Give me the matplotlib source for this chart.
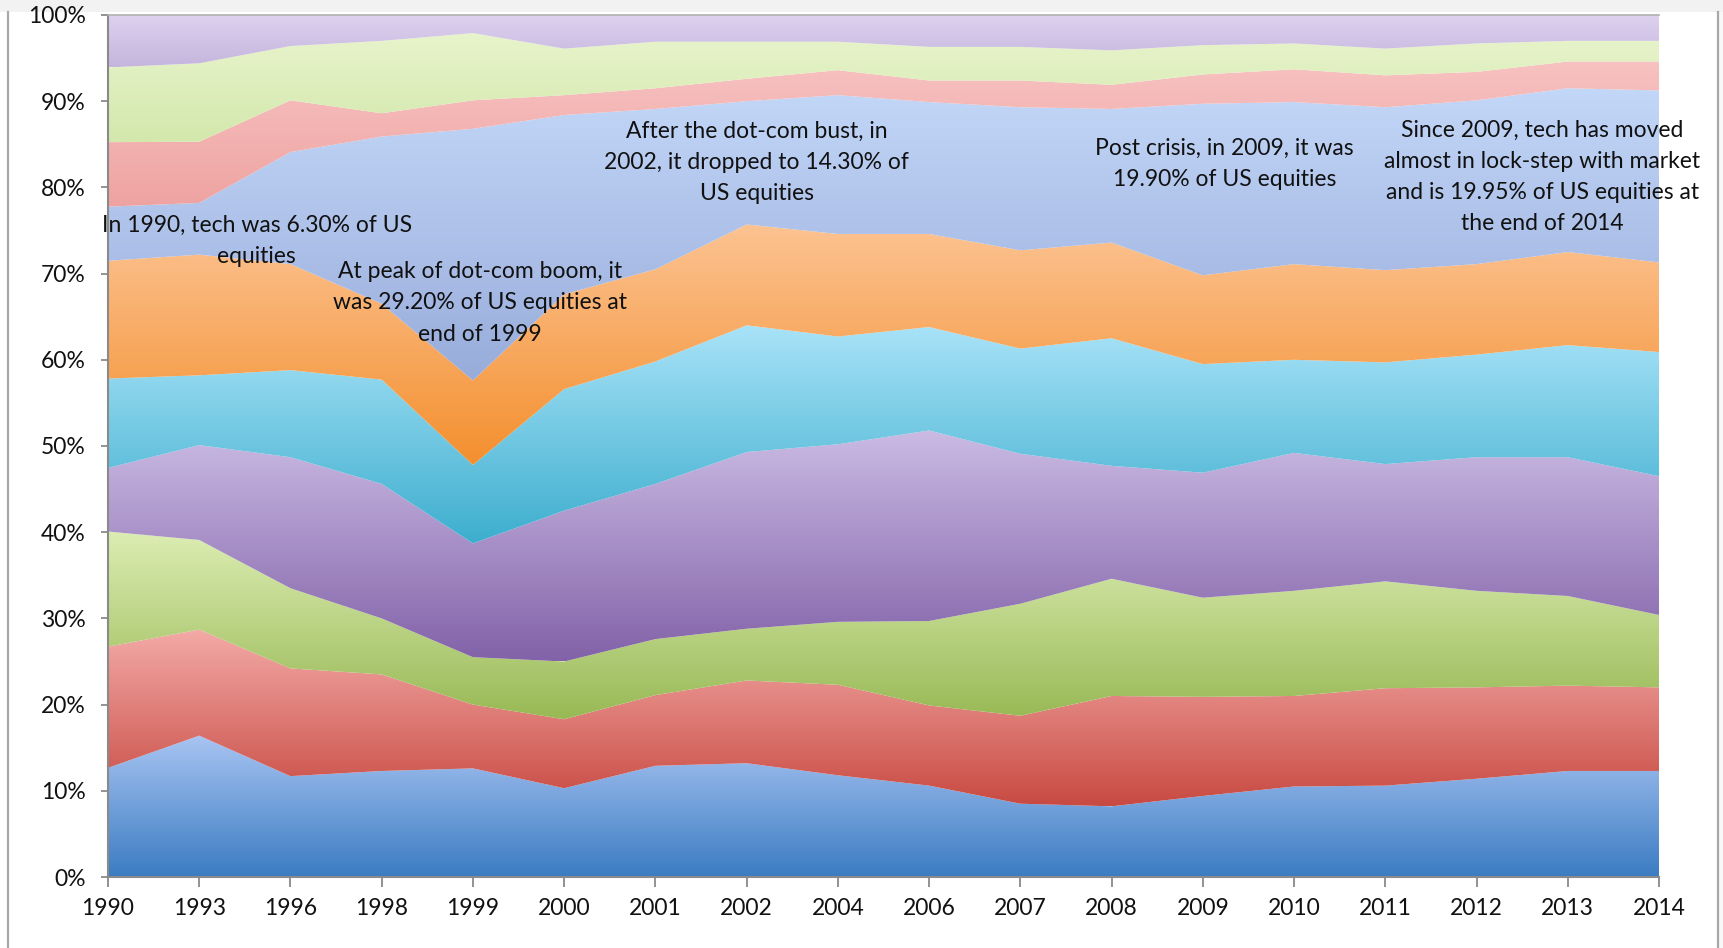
import numpy as np
import matplotlib
matplotlib.use("Agg")
import matplotlib.pyplot as plt
from matplotlib.colors import LinearSegmentedColormap
from matplotlib.patches import PathPatch, Rectangle
from matplotlib.lines import Line2D

plt.rcParams['font.family'] = ['Lato', 'DejaVu Sans']

# Sector weights of US equities (% of total market cap)
years = ['1990', '1993', '1996', '1998', '1999', '2000', '2001', '2002', '2004',
         '2006', '2007', '2008', '2009', '2010', '2011', '2012', '2013', '2014']

consumer_discretionary = [12.7, 16.4, 11.7, 12.3, 12.6, 10.3, 12.9, 13.2, 11.8,
                          10.6, 8.5, 8.2, 9.4, 10.5, 10.6, 11.4, 12.3, 12.3]
consumer_staples = [14.1, 12.3, 12.5, 11.2, 7.4, 8.0, 8.2, 9.6, 10.5,
                    9.3, 10.2, 12.8, 11.5, 10.5, 11.3, 10.6, 9.9, 9.7]
energy = [13.4, 10.4, 9.3, 6.5, 5.5, 6.7, 6.5, 6.0, 7.3,
          9.8, 13.0, 13.6, 11.5, 12.2, 12.4, 11.2, 10.4, 8.4]
financials = [7.4, 11.0, 15.2, 15.6, 13.2, 17.5, 18.0, 20.5, 20.6,
              22.1, 17.4, 13.1, 14.5, 16.0, 13.6, 15.5, 16.1, 16.1]
health_care = [10.4, 8.1, 10.1, 12.1, 9.1, 14.1, 14.2, 14.7, 12.5,
               12.0, 12.2, 14.8, 12.6, 10.8, 11.8, 11.9, 13.0, 14.4]
industrials = [13.7, 14.0, 12.3, 8.8, 9.8, 11.0, 10.7, 11.7, 11.9,
               10.8, 11.4, 11.1, 10.3, 11.1, 10.7, 10.5, 10.8, 10.4]
technology = [6.3, 6.0, 13.0, 19.4, 29.2, 20.8, 18.6, 14.3, 16.1,
              15.3, 16.6, 15.5, 19.9, 18.8, 18.9, 19.0, 19.0, 19.95]
materials = [7.5, 7.1, 6.0, 2.7, 3.3, 2.3, 2.4, 2.6, 2.9,
             2.5, 3.1, 2.8, 3.4, 3.8, 3.7, 3.3, 3.1, 3.35]
telecom = [8.7, 9.1, 6.3, 8.4, 7.8, 5.4, 5.4, 4.3, 3.3,
           3.9, 3.9, 4.0, 3.4, 3.0, 3.1, 3.3, 2.4, 2.4]
utilities = [6.1, 5.6, 3.6, 3.0, 2.1, 3.9, 3.1, 3.1, 3.1,
             3.7, 3.7, 4.1, 3.5, 3.3, 3.9, 3.3, 3.0, 3.0]

sectors = [consumer_discretionary, consumer_staples, energy, financials,
           health_care, industrials, technology, materials, telecom, utilities]

# (dark bottom, light top) gradient per sector
gradients = [
    ('#3b7cc2', '#a8c4f2'),
    ('#c84a42', '#f3aaa7'),
    ('#98b955', '#dcedb3'),
    ('#8262a8', '#cbbbe4'),
    ('#3daece', '#a9e3f8'),
    ('#f48f2e', '#fcc392'),
    ('#98acdb', '#c3d7f8'),
    ('#eea3a1', '#f7c2c1'),
    ('#d3e8ac', '#e8f4cc'),
    ('#c5b5dd', '#ddd2ef'),
]

notes = [
    (1.63, 73.8, 'In 1990, tech was 6.30% of US\nequities'),
    (4.08, 66.6, 'At peak of dot-com boom, it\nwas 29.20% of US equities at\nend of 1999'),
    (7.11, 82.9, 'After the dot-com bust, in\n2002, it dropped to 14.30% of\nUS equities'),
    (12.24, 82.7, 'Post crisis, in 2009, it was\n19.90% of US equities'),
    (15.72, 81.2, 'Since 2009, tech has moved\nalmost in lock-step with market\nand is 19.95% of US equities at\nthe end of 2014'),
]

W, H = 1724, 948
fig = plt.figure(figsize=(W / 100, H / 100), dpi=100)
fig.patch.set_facecolor('white')

# window chrome around the chart
fig.add_artist(Rectangle((0, 1 - 12 / H), 1, 12 / H, transform=fig.transFigure,
                         facecolor='#f2f2f2', edgecolor='none', zorder=0))
fig.add_artist(Rectangle((1718 / W, 0), 1 - 1718 / W, 1 - 12 / H, transform=fig.transFigure,
                         facecolor='#f8f8f8', edgecolor='none', zorder=0))
fig.add_artist(Line2D([8 / W, 8 / W], [0, 1 - 12 / H], transform=fig.transFigure,
                      color='#a8a8a8', lw=1.6))
fig.add_artist(Line2D([1718 / W, 1718 / W], [0, 1 - 12 / H], transform=fig.transFigure,
                      color='#a8a8a8', lw=1.6))

left, right, top, bottom = 108, 1659, 15, 877
ax = fig.add_axes([left / W, 1 - bottom / H, (right - left) / W, (bottom - top) / H])

x = np.arange(len(years))
data = np.array(sectors, dtype=float)
pct = data / data.sum(axis=0) * 100
cum = np.cumsum(pct, axis=0)

grad = np.linspace(0, 1, 512).reshape(-1, 1)
for i in range(len(sectors)):
    lower = cum[i - 1] if i else np.zeros(len(x))
    upper = cum[i]
    band = ax.fill_between(x, lower, upper, facecolor='none', edgecolor='none')
    patch = PathPatch(band.get_paths()[0], transform=ax.transData,
                      facecolor='none', edgecolor='none')
    ax.add_patch(patch)
    cmap = LinearSegmentedColormap.from_list(f'g{i}', list(gradients[i]))
    im = ax.imshow(grad, extent=[x[0], x[-1], lower.min(), upper.max()],
                   origin='lower', cmap=cmap, aspect='auto',
                   interpolation='bilinear', zorder=1)
    im.set_clip_path(patch)

ax.set_xlim(x[0], x[-1])
ax.set_ylim(0, 100)
ax.set_xticks(x)
ax.set_xticklabels(years)
ax.set_yticks(np.arange(0, 101, 10))
ax.set_yticklabels([f'{v}%' for v in range(0, 101, 10)])

ax.spines['right'].set_visible(False)
for s in ['left', 'bottom']:
    ax.spines[s].set_color('#8a8a8a')
    ax.spines[s].set_linewidth(1.5)
ax.spines['top'].set_color('#b0b0b0')
ax.spines['top'].set_linewidth(1.2)

ax.tick_params(axis='x', direction='out', length=7, width=1.3, color='#8a8a8a',
               labelsize=16.5, pad=8, labelcolor='#111111')
ax.tick_params(axis='y', direction='out', length=5, width=1.3, color='#8a8a8a',
               labelsize=16.5, pad=11, labelcolor='#111111')

for tx, ty, s in notes:
    ax.text(tx, ty, s, ha='center', va='center', multialignment='center',
            fontsize=16.5, color='#111111', linespacing=1.6, zorder=5)

fig.savefig('out.png', dpi=100)
